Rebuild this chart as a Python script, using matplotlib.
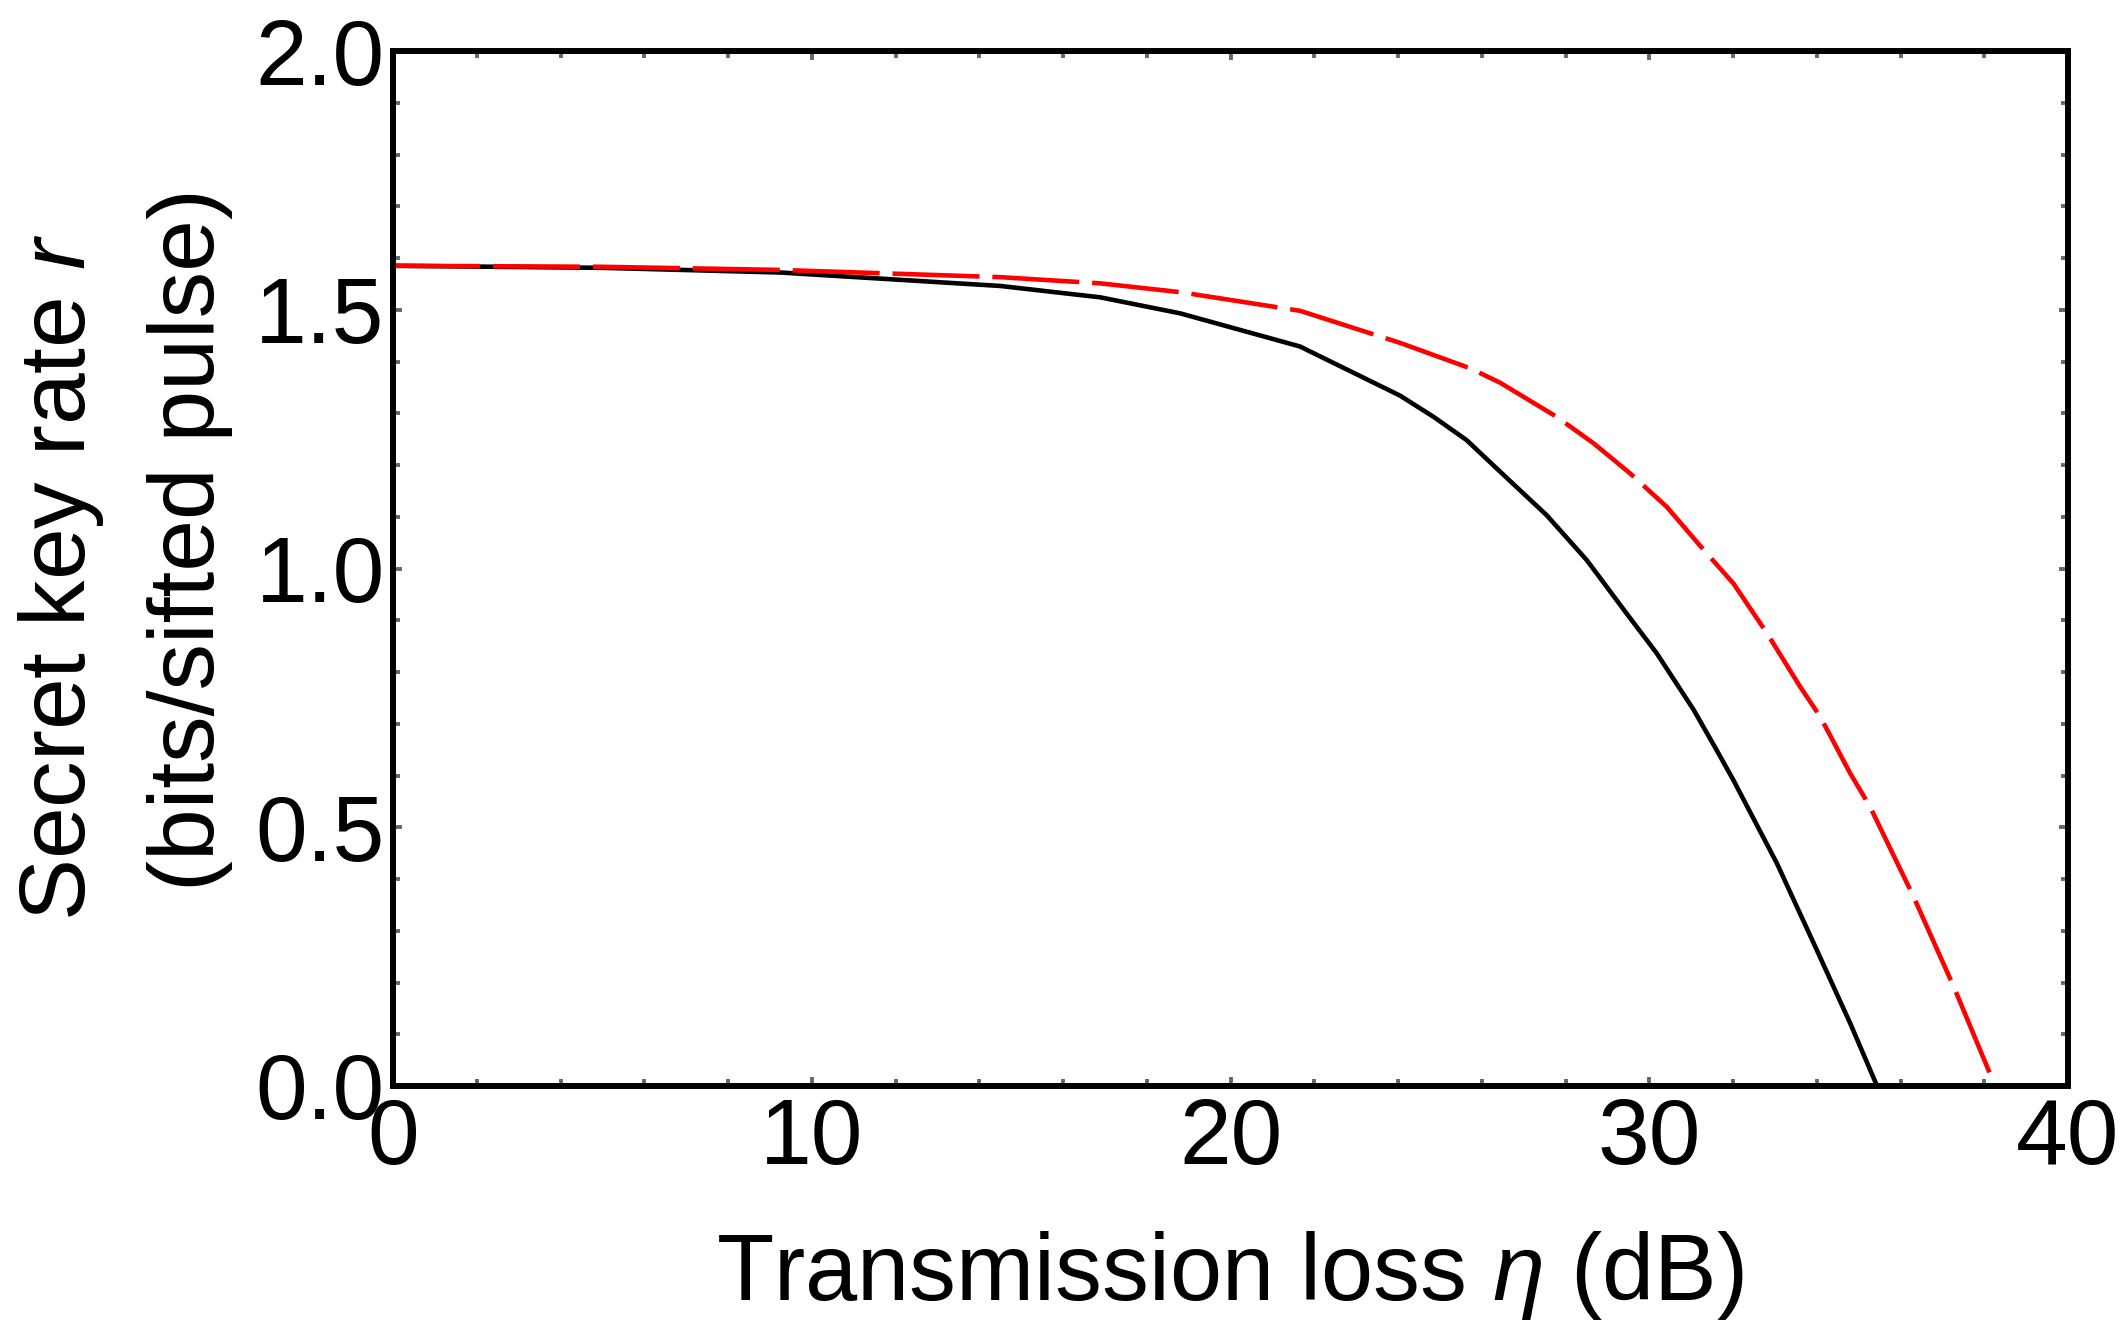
import numpy as np
import matplotlib
matplotlib.use("Agg")
import matplotlib.pyplot as plt
from matplotlib.ticker import MultipleLocator

# values
loss_black = [0, 5, 9.24, 14.5, 16.89, 18.8, 21.66, 24.05, 24.85, 25.64, 26.44, 27.55,
              28.51, 29.46, 30.18, 31.06, 31.61, 32.01, 33.05, 34.0, 34.8, 35.44]
rate_black = [1.585, 1.581, 1.572, 1.546, 1.524, 1.493, 1.429, 1.334, 1.293, 1.248, 1.187, 1.103,
              1.016, 0.913, 0.836, 0.727, 0.649, 0.591, 0.430, 0.263, 0.121, 0.0]

loss_red = [0, 5, 9.24, 14.5, 16.89, 18.8, 21.66, 24.05, 25.72, 26.44, 27.79, 28.67,
            29.54, 30.42, 31.30, 32.01, 32.81, 33.60, 34.08, 34.80, 35.27, 36.31, 37.27, 38.26]
rate_red = [1.585, 1.583, 1.577, 1.563, 1.551, 1.534, 1.498, 1.436, 1.387, 1.359, 1.293,
            1.242, 1.184, 1.119, 1.036, 0.971, 0.875, 0.772, 0.714, 0.604, 0.540, 0.366, 0.192, 0.0]

plt.rcParams['font.family'] = ['Liberation Sans', 'DejaVu Sans']
plt.rcParams['mathtext.fontset'] = 'custom'
plt.rcParams['mathtext.it'] = 'Liberation Sans:italic'
plt.rcParams['mathtext.rm'] = 'Liberation Sans'

W, H = 2123, 1325
fig = plt.figure(figsize=(W / 100, H / 100), dpi=100)
ax = fig.add_axes([393 / W, 1 - 1086 / H, (2068 - 393) / W, (1086 - 51) / H])

ax.plot(loss_black, rate_black, color='black', lw=3.3, solid_capstyle='butt',
        solid_joinstyle='round')
ln, = ax.plot(loss_red, rate_red, color='red', lw=3.3, dash_joinstyle='round')
ln.set_dashes((19, 2.8))

ax.set_xlim(0, 40)
ax.set_ylim(0, 2.0)
ax.xaxis.set_major_locator(MultipleLocator(10))
ax.xaxis.set_minor_locator(MultipleLocator(2))
ax.yaxis.set_major_locator(MultipleLocator(0.5))
ax.yaxis.set_minor_locator(MultipleLocator(0.1))
ax.yaxis.set_major_formatter(matplotlib.ticker.FormatStrFormatter('%.1f'))

for s in ax.spines.values():
    s.set_linewidth(4.3)
    s.set_color('black')

ax.tick_params(which='both', direction='in', top=True, right=True,
               color='#666666', width=2.8, labelsize=67)
ax.tick_params(which='major', length=6.5)
ax.tick_params(which='minor', length=5)
ax.tick_params(axis='x', pad=8)
ax.tick_params(axis='y', pad=6)

fig.text(1230 / W, 1 - 1300 / H, r'Transmission loss $\it{\eta}$ (dB)',
         fontsize=67.5, ha='center', va='baseline')
fig.text(61 / W, 1 - 577 / H, r'Secret key rate $\it{r}$', fontsize=67,
         rotation=90, ha='center', va='center')
fig.text(190 / W, 1 - 540 / H, '(bits/sifted pulse)', fontsize=67,
         rotation=90, ha='center', va='center')

fig.savefig('out.png', dpi=100)
